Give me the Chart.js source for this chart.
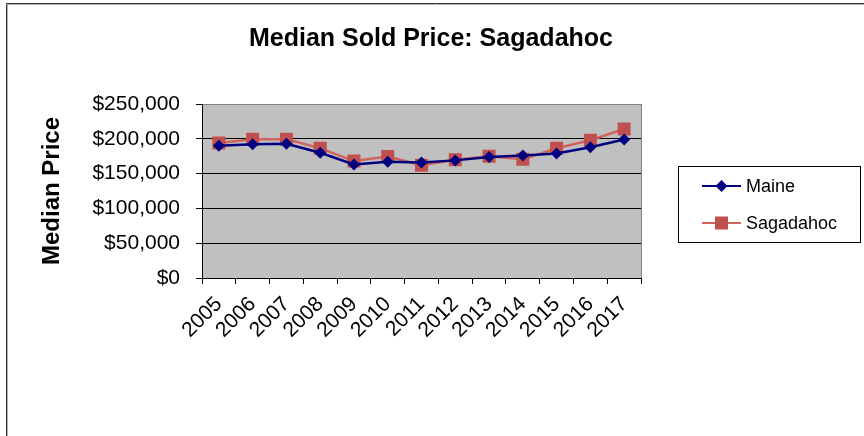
<!DOCTYPE html>
<html>
<head>
<meta charset="utf-8">
<script src="https://cdn.jsdelivr.net/npm/chart.js@4"></script>
<style>
  html, body { margin: 0; padding: 0; background: #fff; }
  #wrap { position: relative; width: 864px; height: 436px; }
</style>
</head>
<body>
<div id="wrap"><canvas id="myChart" width="864" height="436"></canvas></div>
<script>
const years = ["2005", "2006", "2007", "2008", "2009", "2010", "2011", "2012", "2013", "2014", "2015", "2016", "2017"];
const maine = [190000, 192000, 193000, 180000, 163000, 167000, 166000, 169000, 174000, 176000, 179000, 188000, 199000];
const sagadahoc = [194000, 199500, 199500, 186500, 168000, 174500, 162000, 170000, 175000, 170500, 186500, 198000, 214000];
const seriesNames = ["Maine", "Sagadahoc"];
const chartTitle = "Median Sold Price: Sagadahoc";

const FONT = "'Liberation Sans', Arial, sans-serif";

// grey plot background, outer frame, title and boxed legend
const decor = {
  id: "decor",
  beforeDraw(chart) {
    const { ctx, chartArea: a } = chart;
    ctx.save();
    ctx.fillStyle = "#fff";
    ctx.fillRect(0, 0, chart.width, chart.height);
    ctx.fillStyle = "#c0c0c0";
    ctx.fillRect(a.left, a.top, a.right - a.left, a.bottom - a.top);
    // outer chart frame (top and left visible)
    ctx.strokeStyle = "#333";
    ctx.lineWidth = 1;
    ctx.beginPath();
    ctx.moveTo(6.5, chart.height);
    ctx.lineTo(6.5, 3.5);
    ctx.lineTo(chart.width, 3.5);
    ctx.stroke();
    ctx.strokeStyle = "#b0b0b0";
    ctx.beginPath();
    ctx.moveTo(7.5, chart.height);
    ctx.lineTo(7.5, 4.5);
    ctx.lineTo(chart.width, 4.5);
    ctx.stroke();
    // title
    ctx.fillStyle = "#000";
    ctx.font = "bold 25px " + FONT;
    ctx.textAlign = "center";
    ctx.textBaseline = "alphabetic";
    ctx.fillText(chartTitle, 431, 46);
    ctx.restore();
  },
  afterDatasetsDraw(chart) {
    const { ctx, chartArea: a } = chart;
    ctx.save();
    // plot border right side
    ctx.strokeStyle = "#808080";
    ctx.lineWidth = 1;
    ctx.beginPath();
    ctx.moveTo(Math.round(a.right) + 0.5, a.top);
    ctx.lineTo(Math.round(a.right) + 0.5, a.bottom);
    ctx.stroke();

    // legend
    const bx = 678.5, by = 166.5, bw = 182, bh = 76;
    ctx.fillStyle = "#fff";
    ctx.fillRect(bx, by, bw, bh);
    ctx.strokeStyle = "#000";
    ctx.strokeRect(bx, by, bw, bh);
    const rows = [186, 223];
    chart.data.datasets.forEach((ds, i) => {
      const y = rows[i];
      ctx.strokeStyle = ds.borderColor;
      ctx.lineWidth = 2;
      ctx.beginPath();
      ctx.moveTo(702, y);
      ctx.lineTo(741, y);
      ctx.stroke();
      ctx.fillStyle = ds.backgroundColor;
      const cx = 721.5;
      ctx.beginPath();
      if (ds.pointStyle === "rect") {
        ctx.rect(cx - 6.5, y - 6.5, 13, 13);
      } else {
        ctx.moveTo(cx, y - 6);
        ctx.lineTo(cx + 6, y);
        ctx.lineTo(cx, y + 6);
        ctx.lineTo(cx - 6, y);
        ctx.closePath();
      }
      ctx.fill();
      ctx.fillStyle = "#000";
      ctx.font = "18px " + FONT;
      ctx.textBaseline = "middle";
      ctx.textAlign = "left";
      ctx.fillText(ds.label, 746, y + 1);
    });
    ctx.restore();
  },
};

const ctx = document.getElementById("myChart").getContext("2d");

const myChart = new Chart(ctx, {
  type: "line",
  data: {
    labels: years,
    datasets: [
      {
        label: seriesNames[0],
        data: maine,
        borderColor: "#000080",
        backgroundColor: "#000080",
        borderWidth: 2.5,
        pointStyle: "rectRot",
        pointRadius: 6,
        pointBorderWidth: 0,
        tension: 0,
      },
      {
        label: seriesNames[1],
        data: sagadahoc,
        borderColor: "#d0635f",
        backgroundColor: "#c0504d",
        borderWidth: 2.5,
        pointStyle: "rect",
        pointRadius: 9.2,
        pointBorderWidth: 0,
        tension: 0,
      },
    ],
  },
  options: {
    responsive: false,
    animation: false,
    layout: { padding: { left: 0, right: 223, top: 104, bottom: 0 } },
    plugins: {
      legend: { display: false },
      tooltip: { enabled: false },
      title: { display: false },
    },
    scales: {
      x: {
        offset: true,
        grid: {
          offset: true,
          drawOnChartArea: false,
          drawTicks: true,
          tickLength: 6,
          tickColor: "#000",
        },
        border: { color: "#000", width: 1 },
        ticks: {
          autoSkip: false,
          maxRotation: 45,
          minRotation: 45,
          padding: 8,
          color: "#000",
          font: { family: FONT, size: 21 },
        },
        afterFit(scale) { scale.height = 158; },
      },
      y: {
        min: 0,
        max: 250000,
        grid: {
          color: (c) => (c.tick && c.tick.value === 250000 ? "#808080" : "#000"),
          lineWidth: 1,
          tickLength: 6,
          tickColor: "#000",
        },
        border: { color: "#000", width: 1 },
        ticks: {
          stepSize: 50000,
          padding: 16,
          color: "#000",
          font: { family: FONT, size: 21 },
          callback: (v) => "$" + v.toLocaleString("en-US"),
        },
        title: {
          display: true,
          text: "Median Price",
          color: "#000",
          font: { family: FONT, size: 24, weight: "bold" },
          padding: { top: 38, bottom: 0 },
        },
        afterFit(scale) { scale.width = 202; },
      },
    },
  },
  plugins: [decor],
});
</script>
</body>
</html>
